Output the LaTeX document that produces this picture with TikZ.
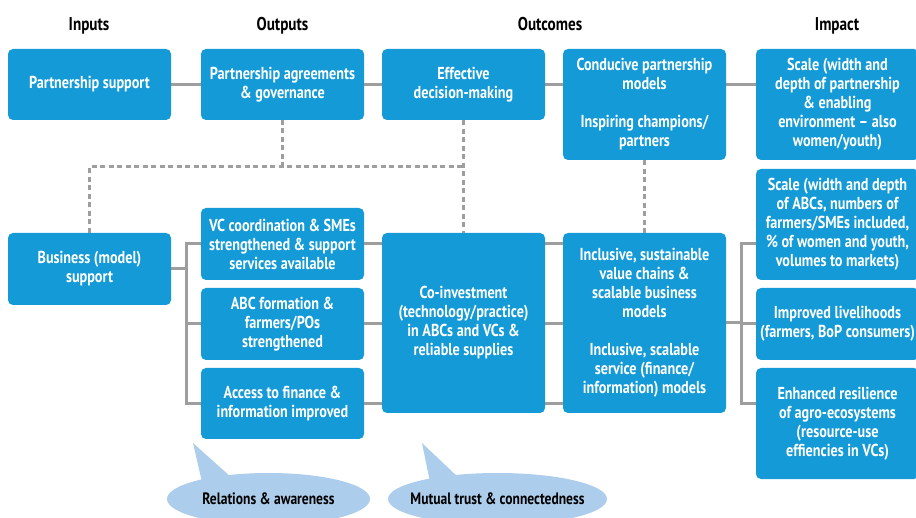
\documentclass[tikz,border=0pt]{standalone}
\usepackage{fontspec}
\setmainfont{PT Sans}[FakeStretch=0.82]
\definecolor{boxblue}{RGB}{20,154,214}
\definecolor{linkgray}{RGB}{158,158,158}
\definecolor{bubbleblue}{RGB}{172,205,235}
\begin{document}
\begin{tikzpicture}[x=1pt,y=-1pt,
  box/.style={fill=boxblue,rounded corners=5pt,text=white,align=center,inner sep=0pt,
    minimum width=163pt,font=\fontsize{17.3}{19}\selectfont\bfseries},
  head/.style={anchor=base,font=\fontsize{18.5}{20}\selectfont\bfseries},
  link/.style={draw=linkgray,line width=3pt},
  dlink/.style={link,dash pattern=on 5pt off 3.5pt},
  bubble/.style={fill=bubbleblue},
  bubbletext/.style={inner sep=0pt,font=\fontsize{16.5}{18}\selectfont\bfseries}]
\useasboundingbox (0,0) rectangle (916,518);
% column heads
\node[head] (hin) at (89,31) {Inputs};
\node[head] (hout) at (282.5,31) {Outputs};
\node[head] (hoc) at (550,31) {Outcomes};
\node[head] (himp) at (837,31) {Impact};
% coordinates for the joins
\coordinate (j1) at (186,0);
\coordinate (j2) at (741,0);
\coordinate (d1) at (0,167);
% links (under the boxes)
\draw[link] (89.5,84.5) -- (837.5,84.5);
\draw[dlink] (282.5,120) -- (282.5,167);
% boxes, top row
\node[box,minimum height=71pt] (ps) at (89.5,84.5) {Partnership support};
\node[box,minimum height=71pt] (pa) at (282.5,84.5) {Partnership agreements\\\& governance};
\node[box,minimum height=71pt] (ed) at (463.5,84.5) {Effective\\decision-making};
\node[box,minimum height=111pt] (cp) at (644.5,104.5) {Conducive partnership\\models\\[19pt]Inspiring champions/\\partners};
\node[box,minimum height=111pt] (sc1) at (837.5,104.5) {Scale (width and\\depth of partnership\\\& enabling\\environment -- also\\women/youth)};
% boxes, lower part
\node[box,minimum height=72pt] (bs) at (89.5,269) {Business (model)\\support};
\node[box,minimum height=72pt] (vc) at (282.5,244) {VC coordination \& SMEs\\strengthened \& support\\services available};
\node[box,minimum height=72pt] (abc) at (282.5,324) {ABC formation \&\\farmers/POs\\strengthened};
\node[box,minimum height=71pt] (acc) at (282.5,403.5) {Access to finance \&\\information improved};
\node[box,minimum height=180pt] (ci) at (463.5,323) {Co-investment\\(technology/practice)\\in ABCs and VCs \&\\reliable supplies};
\node[box,minimum height=180pt] (inc) at (644.5,323) {Inclusive, sustainable\\value chains \&\\scalable business\\models\\[19pt]Inclusive, scalable\\service (finance/\\information) models};
\node[box,minimum height=111pt] (sc2) at (837.5,224.5) {Scale (width and depth\\of ABCs, numbers of\\farmers/SMEs included,\\\% of women and youth,\\volumes to markets)};
\node[box,minimum height=72pt] (il) at (837.5,324) {Improved livelihoods\\(farmers, BoP consumers)};
\node[box,minimum height=111pt] (er) at (837.5,423.5) {Enhanced resilience\\of agro-ecosystems\\(resource-use\\effiencies in VCs)};
% dashed links
\draw[dlink] (bs.north) -- (bs.north |- d1) -- (ed.south |- d1);
\draw[dlink] (ed.south) -- (ci.north);
\draw[dlink] (cp.south) -- (inc.north);
% solid links, lower part
\draw[link] (bs.east) -- (bs.east -| j1);
\draw[link] (vc.west) -- (vc.west -| j1) -- (acc.west -| j1) -- (acc.west);
\draw[link] (abc.west) -- (abc.west -| j1);
\draw[link] (vc.east) -- (vc.east -| ci.west);
\draw[link] (abc.east) -- (abc.east -| ci.west);
\draw[link] (acc.east) -- (acc.east -| ci.west);
\draw[link] (ci.east |- vc) -- (inc.west |- vc);
\draw[link] (ci.east |- abc) -- (inc.west |- abc);
\draw[link] (ci.east |- acc) -- (inc.west |- acc);
\draw[link] (inc.east) -- (inc.east -| j2);
\draw[link] (sc2.west |- vc) -- (vc -| j2) -- (acc -| j2) -- (sc2.west |- acc);
\draw[link] (il.west) -- (il.west -| j2);
% callouts
\fill[bubble] (193,443) -- (202,482) -- (232,478) -- cycle;
\fill[bubble] (268.5,499) ellipse [x radius=101.5, y radius=26];
\node[bubbletext] (rel) at (268.5,499) {Relations \& awareness};
\fill[bubble] (422,443) -- (430,482) -- (459,478) -- cycle;
\fill[bubble] (497.5,499) ellipse [x radius=109.5, y radius=26];
\node[bubbletext] (mt) at (497.5,499) {Mutual trust \& connectedness};
\end{tikzpicture}
\end{document}
